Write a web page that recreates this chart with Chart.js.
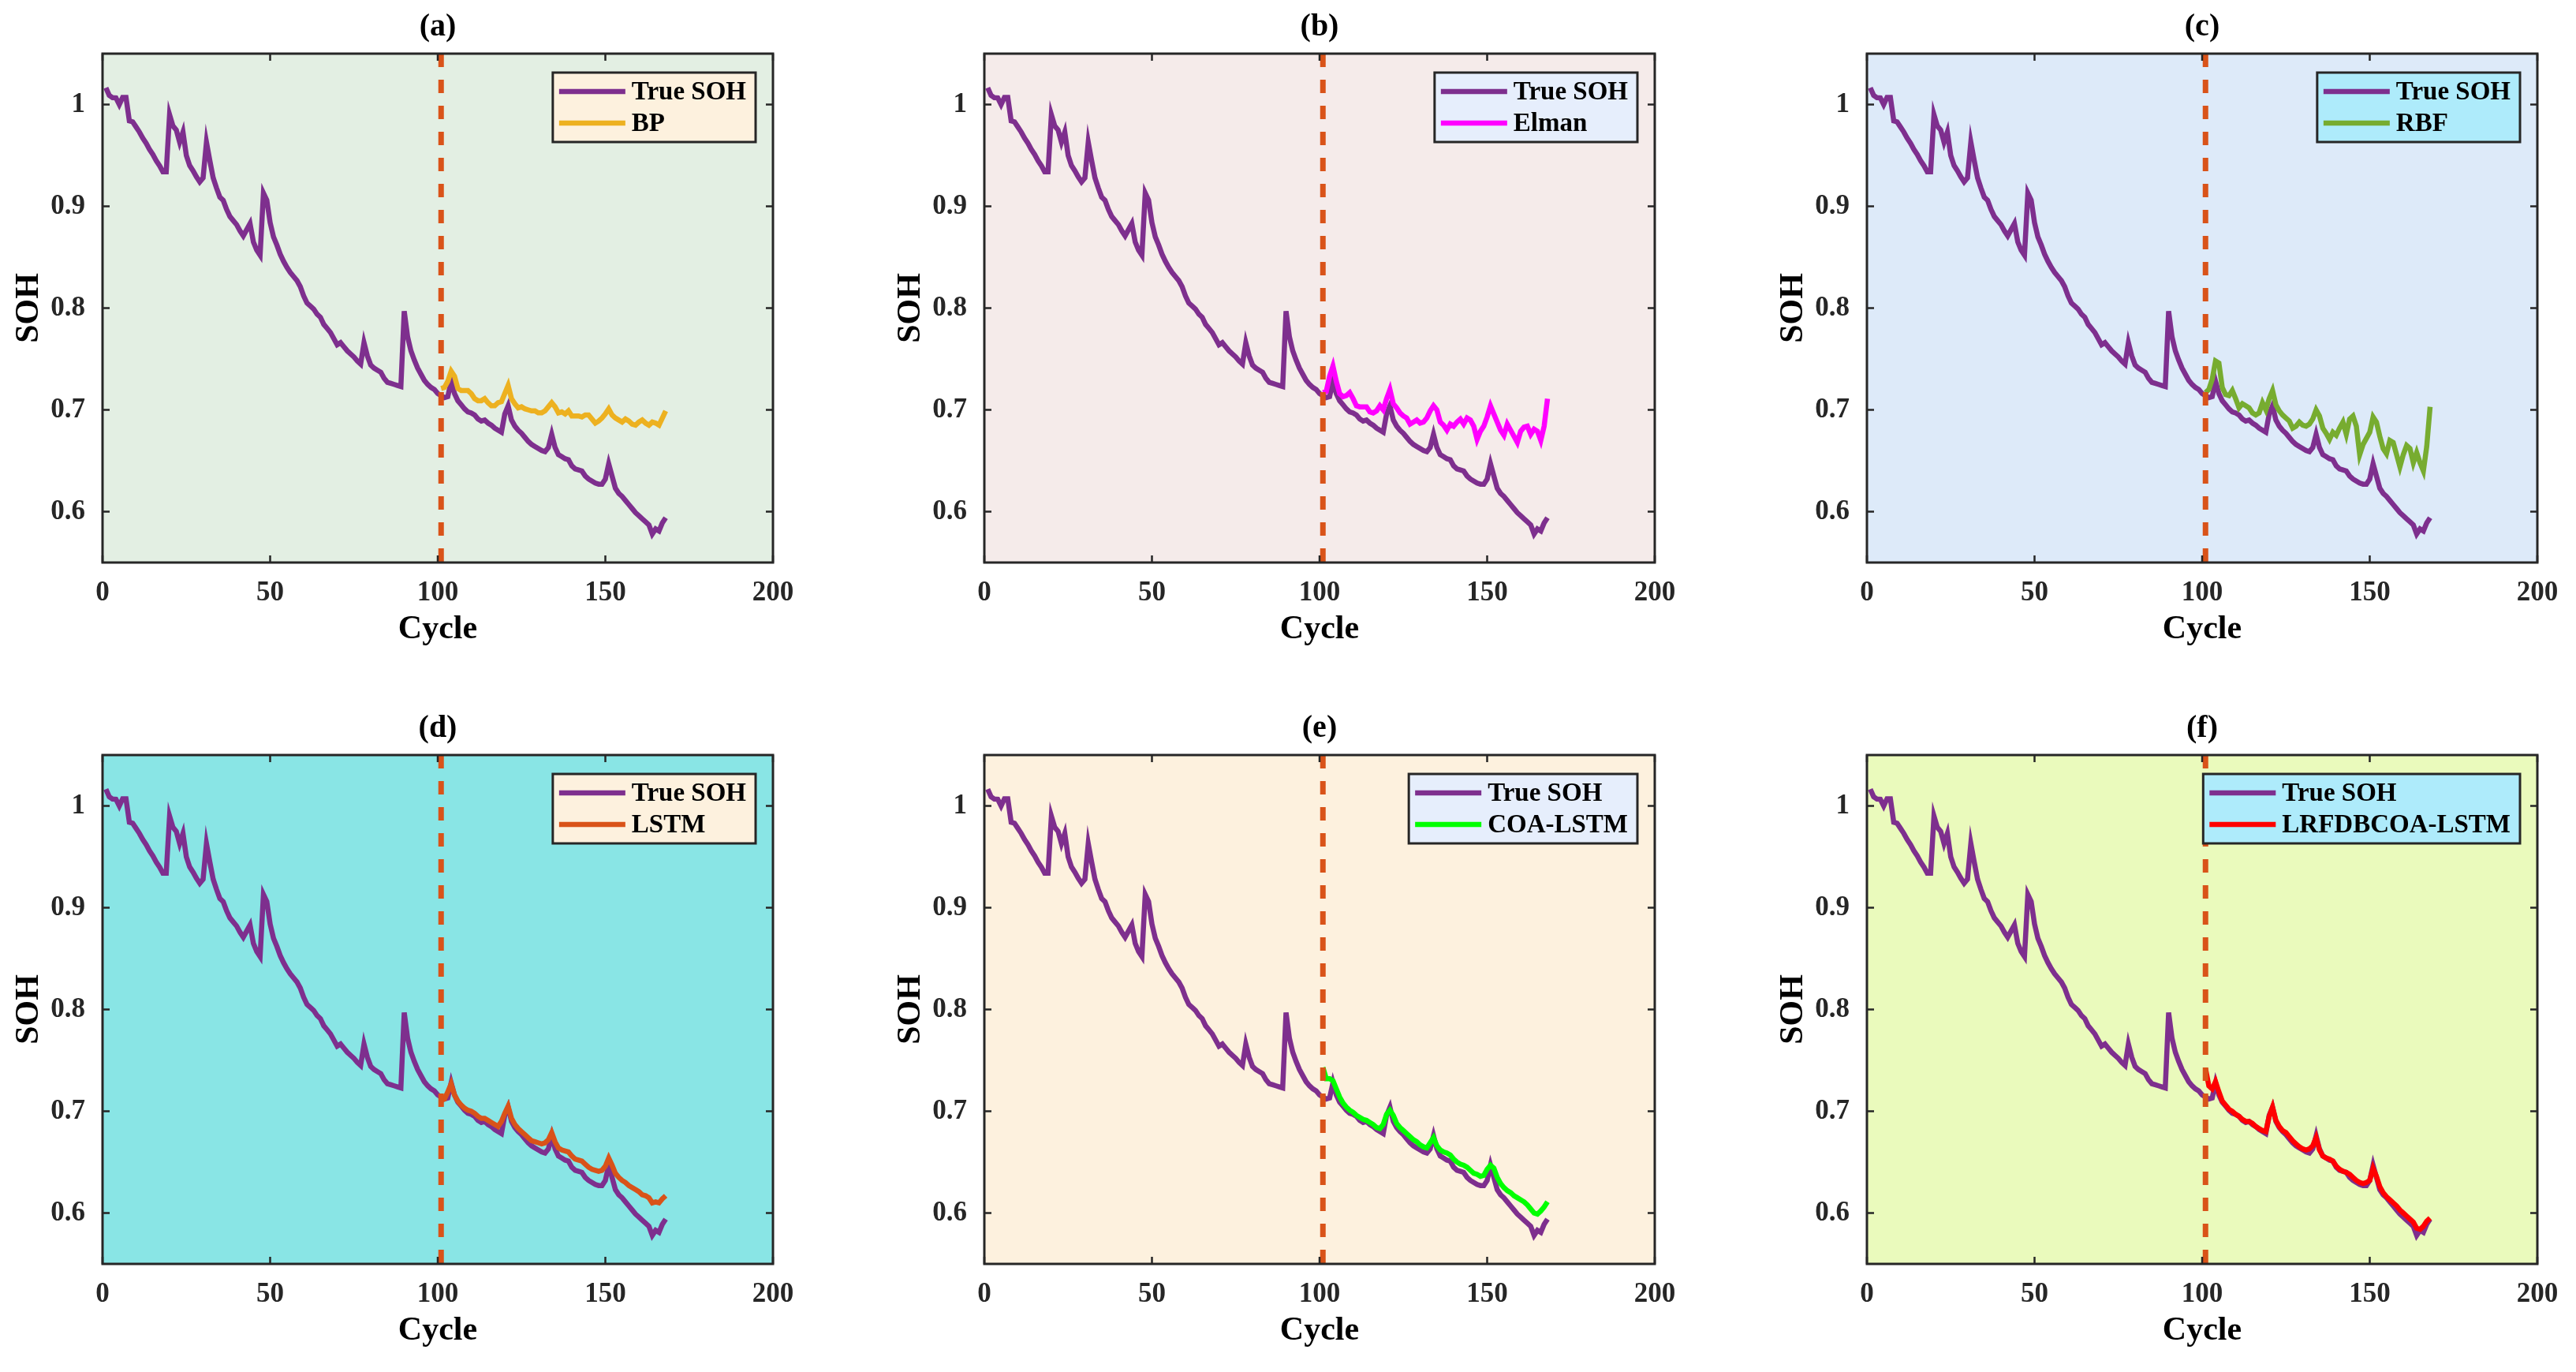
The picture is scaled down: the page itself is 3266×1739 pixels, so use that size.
<!DOCTYPE html>
<html lang="en">
<head>
<meta charset="UTF-8">
<title>SOH prediction comparison</title>
<script src="https://cdn.jsdelivr.net/npm/chart.js"></script>
<style>
  html, body { margin: 0; padding: 0; background: #fff; }
  #page { position: relative; width: 3266px; height: 1739px; overflow: hidden; }
  #page canvas { position: absolute; }
</style>
</head>
<body>
<div id="page">
  <canvas id="pa" width="1025" height="850" style="left:0px;top:0px"></canvas>
  <canvas id="pb" width="1025" height="850" style="left:1118px;top:0px"></canvas>
  <canvas id="pc" width="1025" height="850" style="left:2237px;top:0px"></canvas>
  <canvas id="pd" width="1025" height="850" style="left:0px;top:889px"></canvas>
  <canvas id="pe" width="1025" height="850" style="left:1118px;top:889px"></canvas>
  <canvas id="pf" width="1025" height="850" style="left:2237px;top:889px"></canvas>
</div>
<script>
// axis ticks
const xTicks = [0, 50, 100, 150, 200];
const yTicks = [0.6, 0.7, 0.8, 0.9, 1.0];
const splitCycle = 101;      // start of prediction (dashed line)
const trueStart = 1;
const predStart = 101;

// measured SOH, cycles 1..168
const trueSOH = [
  1.0165, 1.009, 1.0067, 1.0065, 1.000, 1.007, 1.007, 0.984, 0.983, 0.978,
  0.973, 0.967, 0.962, 0.956, 0.951, 0.945, 0.940, 0.934, 0.934, 0.990,
  0.979, 0.975, 0.963, 0.973, 0.950, 0.940, 0.935, 0.929, 0.924, 0.928,
  0.963, 0.945, 0.928, 0.918, 0.909, 0.906, 0.897, 0.890, 0.886, 0.882,
  0.876, 0.871, 0.877, 0.883, 0.865, 0.857, 0.852, 0.913, 0.906, 0.884,
  0.870, 0.862, 0.853, 0.846, 0.840, 0.835, 0.831, 0.827, 0.821, 0.812,
  0.805, 0.802, 0.799, 0.794, 0.791, 0.784, 0.780, 0.776, 0.770, 0.764,
  0.766, 0.762, 0.758, 0.755, 0.752, 0.748, 0.745, 0.766, 0.753, 0.744,
  0.741, 0.739, 0.737, 0.731, 0.727, 0.726, 0.725, 0.724, 0.723, 0.797,
  0.772, 0.758, 0.749, 0.741, 0.735, 0.729, 0.725, 0.722, 0.720, 0.716,
  0.714, 0.712, 0.713, 0.728, 0.716, 0.709, 0.705, 0.701, 0.698, 0.697,
  0.695, 0.691, 0.689, 0.690, 0.687, 0.685, 0.682, 0.680, 0.678, 0.696,
  0.704, 0.690, 0.684, 0.680, 0.677, 0.673, 0.669, 0.666, 0.664, 0.662,
  0.660, 0.659, 0.663, 0.676, 0.663, 0.656, 0.654, 0.652, 0.651, 0.645,
  0.642, 0.641, 0.640, 0.635, 0.632, 0.630, 0.628, 0.627, 0.627, 0.632,
  0.647, 0.635, 0.623, 0.618, 0.615, 0.611, 0.607, 0.603, 0.599, 0.596,
  0.593, 0.590, 0.587, 0.578, 0.583, 0.581, 0.589, 0.594
];

// predictions, cycles 101..168
const bpSOH = [
  0.721, 0.722, 0.728, 0.738, 0.733, 0.721, 0.719, 0.719, 0.719, 0.716,
  0.711, 0.709, 0.709, 0.711, 0.707, 0.704, 0.704, 0.707, 0.708, 0.716,
  0.724, 0.711, 0.706, 0.702, 0.703, 0.701, 0.700, 0.699, 0.699, 0.697,
  0.697, 0.699, 0.703, 0.707, 0.703, 0.697, 0.698, 0.696, 0.699, 0.694,
  0.694, 0.694, 0.693, 0.695, 0.695, 0.691, 0.687, 0.689, 0.692, 0.696,
  0.701, 0.695, 0.692, 0.690, 0.688, 0.691, 0.689, 0.686, 0.685, 0.688,
  0.690, 0.687, 0.685, 0.688, 0.687, 0.685, 0.692, 0.699
];
const elmanSOH = [
  0.717, 0.718, 0.733, 0.743, 0.728, 0.716, 0.713, 0.714, 0.717, 0.711,
  0.704, 0.703, 0.703, 0.703, 0.698, 0.697, 0.699, 0.704, 0.700, 0.711,
  0.720, 0.706, 0.702, 0.697, 0.694, 0.692, 0.686, 0.688, 0.690, 0.687,
  0.688, 0.692, 0.699, 0.704, 0.700, 0.688, 0.685, 0.680, 0.686, 0.684,
  0.688, 0.691, 0.686, 0.692, 0.690, 0.684, 0.671, 0.679, 0.684, 0.693,
  0.704, 0.696, 0.688, 0.680, 0.675, 0.686, 0.680, 0.674, 0.668, 0.679,
  0.683, 0.684, 0.676, 0.681, 0.679, 0.670, 0.684, 0.711
];
const rbfSOH = [
  0.717, 0.720, 0.730, 0.748, 0.746, 0.722, 0.715, 0.714, 0.719, 0.711,
  0.702, 0.706, 0.704, 0.702, 0.697, 0.695, 0.697, 0.707, 0.700, 0.711,
  0.719, 0.705, 0.699, 0.695, 0.692, 0.689, 0.682, 0.684, 0.688, 0.685,
  0.684, 0.686, 0.691, 0.700, 0.694, 0.682, 0.677, 0.671, 0.678, 0.675,
  0.682, 0.688, 0.676, 0.691, 0.694, 0.684, 0.656, 0.666, 0.672, 0.678,
  0.693, 0.688, 0.674, 0.662, 0.657, 0.670, 0.668, 0.656, 0.644, 0.656,
  0.665, 0.662, 0.648, 0.658, 0.648, 0.640, 0.664, 0.703
];
const lstmSOH = [
  0.711, 0.712, 0.719, 0.727, 0.716, 0.710, 0.706, 0.703, 0.701, 0.700,
  0.698, 0.695, 0.693, 0.693, 0.691, 0.689, 0.687, 0.685, 0.690, 0.698,
  0.705, 0.693, 0.687, 0.683, 0.680, 0.677, 0.674, 0.671, 0.670, 0.669,
  0.668, 0.669, 0.672, 0.679, 0.670, 0.664, 0.662, 0.661, 0.660, 0.656,
  0.653, 0.652, 0.651, 0.648, 0.645, 0.643, 0.642, 0.641, 0.642, 0.646,
  0.654, 0.647, 0.639, 0.635, 0.632, 0.630, 0.627, 0.625, 0.623, 0.621,
  0.618, 0.617, 0.615, 0.610, 0.611, 0.610, 0.614, 0.617
];
const coaLstmSOH = [
  0.743, 0.732, 0.732, 0.730, 0.722, 0.714, 0.708, 0.704, 0.701, 0.699,
  0.696, 0.694, 0.692, 0.691, 0.689, 0.687, 0.684, 0.683, 0.687, 0.697,
  0.701, 0.696, 0.688, 0.684, 0.681, 0.678, 0.675, 0.672, 0.670, 0.667,
  0.665, 0.664, 0.669, 0.674, 0.666, 0.662, 0.660, 0.659, 0.657, 0.653,
  0.650, 0.648, 0.647, 0.645, 0.642, 0.639, 0.638, 0.636, 0.637, 0.643,
  0.647, 0.644, 0.635, 0.629, 0.625, 0.622, 0.620, 0.617, 0.615, 0.613,
  0.611, 0.608, 0.604, 0.600, 0.599, 0.602, 0.606, 0.611
];
const lrfdbSOH = [
  0.742, 0.725, 0.722, 0.729, 0.719, 0.710, 0.706, 0.702, 0.700, 0.697,
  0.695, 0.692, 0.690, 0.690, 0.688, 0.685, 0.683, 0.681, 0.680, 0.695,
  0.704, 0.691, 0.685, 0.681, 0.679, 0.675, 0.671, 0.668, 0.665, 0.663,
  0.662, 0.663, 0.666, 0.674, 0.662, 0.656, 0.654, 0.653, 0.651, 0.646,
  0.643, 0.641, 0.640, 0.638, 0.635, 0.632, 0.630, 0.629, 0.630, 0.632,
  0.644, 0.636, 0.626, 0.620, 0.616, 0.613, 0.610, 0.607, 0.603, 0.600,
  0.597, 0.594, 0.591, 0.585, 0.584, 0.587, 0.592, 0.595
];

const FONT = '"Times New Roman", "Liberation Serif", serif';
Chart.defaults.font.family = FONT;
Chart.defaults.font.weight = 'bold';

const panels = [
  { id: 'pa', title: '(a)', name: 'BP',            data: bpSOH,      color: '#EDB120', bg: '#E3EFE3', legendBg: '#FDF1DE' },
  { id: 'pb', title: '(b)', name: 'Elman',         data: elmanSOH,   color: '#FF00FF', bg: '#F5EBEA', legendBg: '#E6EEFC' },
  { id: 'pc', title: '(c)', name: 'RBF',           data: rbfSOH,     color: '#77AC30', bg: '#DDEAF9', legendBg: '#AEEBFB' },
  { id: 'pd', title: '(d)', name: 'LSTM',          data: lstmSOH,    color: '#D95319', bg: '#89E5E5', legendBg: '#FDF1DE' },
  { id: 'pe', title: '(e)', name: 'COA-LSTM',      data: coaLstmSOH, color: '#00FF00', bg: '#FDF1DE', legendBg: '#E6EEFC' },
  { id: 'pf', title: '(f)', name: 'LRFDBCOA-LSTM', data: lrfdbSOH,   color: '#FF0000', bg: '#EAFABC', legendBg: '#AEEBFB' }
];

function toPoints(start, vals) {
  return vals.map((v, i) => ({ x: start + i, y: v }));
}

// background, box, inward ticks on all sides, legend inside top-right
const panelDeco = {
  id: 'panelDeco',
  beforeDraw(chart, args, opts) {
    const { ctx, chartArea: a } = chart;
    ctx.save();
    ctx.fillStyle = opts.bg;
    ctx.fillRect(a.left, a.top, a.right - a.left, a.bottom - a.top);
    ctx.restore();
  },
  afterDraw(chart, args, opts) {
    const { ctx, chartArea: a, scales: { x, y } } = chart;
    ctx.save();
    ctx.strokeStyle = '#262626';
    ctx.lineWidth = 2.5;
    ctx.beginPath();
    x.ticks.forEach(t => {
      const px = x.getPixelForValue(t.value);
      ctx.moveTo(px, a.bottom); ctx.lineTo(px, a.bottom - 9);
      ctx.moveTo(px, a.top); ctx.lineTo(px, a.top + 9);
    });
    y.ticks.forEach(t => {
      const py = y.getPixelForValue(t.value);
      ctx.moveTo(a.left, py); ctx.lineTo(a.left + 9, py);
      ctx.moveTo(a.right, py); ctx.lineTo(a.right - 9, py);
    });
    ctx.stroke();
    ctx.lineWidth = 3;
    ctx.strokeRect(a.left, a.top, a.right - a.left, a.bottom - a.top);

    const items = chart.data.datasets.filter(d => d.inLegend);
    ctx.font = 'bold 33px ' + FONT;
    const textW = Math.max(...items.map(d => ctx.measureText(d.label).width));
    const w = 100 + textW + 12, h = 88;
    const bx = a.right - 22 - w, by = a.top + 24;
    ctx.fillStyle = opts.legendBg;
    ctx.fillRect(bx, by, w, h);
    ctx.strokeStyle = '#262626';
    ctx.lineWidth = 3;
    ctx.strokeRect(bx, by, w, h);
    items.forEach((d, i) => {
      const cy = by + 24 + i * 40;
      ctx.strokeStyle = d.borderColor;
      ctx.lineWidth = 6.5;
      ctx.beginPath();
      ctx.moveTo(bx + 8, cy); ctx.lineTo(bx + 92, cy);
      ctx.stroke();
      ctx.fillStyle = '#000';
      ctx.textAlign = 'left';
      ctx.textBaseline = 'middle';
      ctx.fillText(d.label, bx + 100, cy + 1);
    });
    ctx.restore();
  }
};

panels.forEach(p => {
  new Chart(document.getElementById(p.id), {
    type: 'line',
    data: {
      datasets: [
        { label: 'True SOH', data: toPoints(trueStart, trueSOH), borderColor: '#7E2F8E',
          borderWidth: 6.5, pointRadius: 0, order: 3, inLegend: true },
        { label: p.name, data: toPoints(predStart, p.data), borderColor: p.color,
          borderWidth: 6.5, pointRadius: 0, order: 2, inLegend: true },
        { label: 'split', data: [{ x: splitCycle, y: 1.05 }, { x: splitCycle, y: 0.55 }],
          borderColor: '#D95319', borderWidth: 7, borderDash: [17, 16], pointRadius: 0, order: 1 }
      ]
    },
    options: {
      responsive: false,
      animation: false,
      devicePixelRatio: 1,
      layout: { padding: { left: 0, right: 45, top: 0, bottom: 0 } },
      plugins: {
        legend: { display: false },
        tooltip: { enabled: false },
        title: {
          display: true, text: p.title, fullSize: false, color: '#000',
          font: { size: 40, weight: 'bold' }, padding: { top: 11, bottom: 9 }
        },
        panelDeco: { bg: p.bg, legendBg: p.legendBg }
      },
      scales: {
        x: {
          type: 'linear', min: 0, max: 200,
          afterBuildTicks: s => { s.ticks = xTicks.map(v => ({ value: v })); },
          afterFit: s => { s.height = 137; },
          grid: { display: false, drawTicks: false },
          border: { display: false },
          ticks: { padding: 18, color: '#262626', font: { size: 35, weight: 'bold' },
                   maxRotation: 0, autoSkip: false },
          title: { display: true, text: 'Cycle', color: '#000',
                   font: { size: 42, weight: 'bold' }, padding: { top: 0, bottom: 27 } }
        },
        y: {
          type: 'linear', min: 0.55, max: 1.05,
          afterBuildTicks: s => { s.ticks = yTicks.map(v => ({ value: v })); },
          afterFit: s => { s.width = 130; },
          grid: { display: false, drawTicks: false },
          border: { display: false },
          ticks: { padding: 22, color: '#262626', font: { size: 35, weight: 'bold' },
                   callback: v => (Math.abs(v - 1) < 1e-9 ? '1' : v.toFixed(1)) },
          title: { display: true, text: 'SOH', color: '#000',
                   font: { size: 42, weight: 'bold' }, padding: { top: 12, bottom: 0 } }
        }
      }
    },
    plugins: [panelDeco]
  });
});
</script>
</body>
</html>
